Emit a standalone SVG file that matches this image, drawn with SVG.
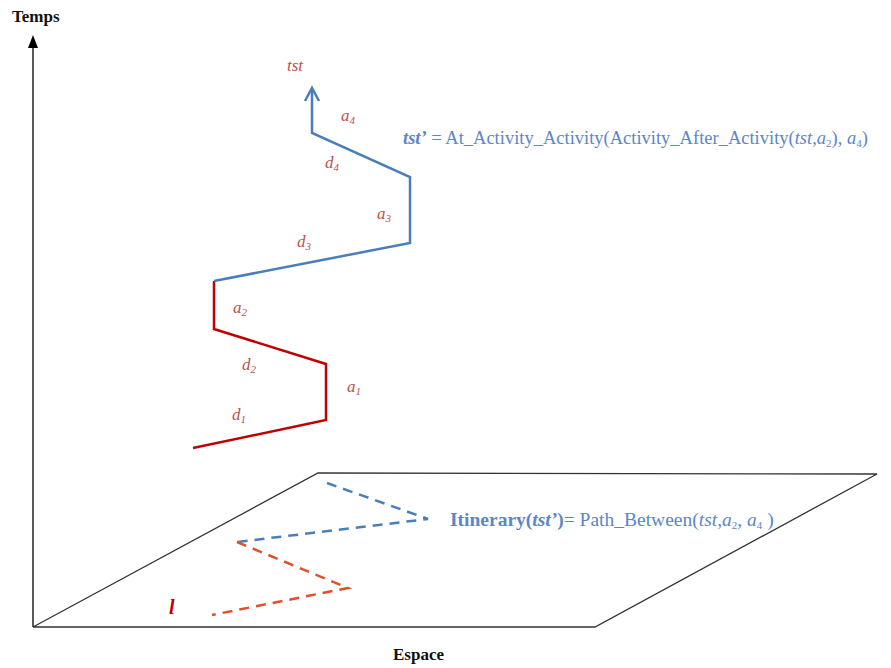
<svg xmlns="http://www.w3.org/2000/svg" width="891" height="668" viewBox="0 0 891 668">
<style>
.ax{stroke:#000;stroke-width:1.3;fill:none}
.pl{stroke:#333;stroke-width:1.3;fill:none}
.red{stroke:#c00000;stroke-width:2.5;fill:none}
.blue{stroke:#4a7ebb;stroke-width:2.5;fill:none}
.bd{stroke:#4a7ebb;stroke-width:2.5;fill:none;stroke-dasharray:10 7}
.rd{stroke:#e0502a;stroke-width:2.5;fill:none;stroke-dasharray:10 7}
.lbl{font-family:"Liberation Serif",serif;font-style:italic;font-size:17px;fill:#c0504d}
.sub{font-size:11px}
.bt{font-family:"Liberation Serif",serif;font-size:19px;fill:#5b86c8}
.ttl{font-family:"Liberation Serif",serif;font-weight:bold;font-size:17px;fill:#111}
</style>
<g id="axes">
<line class="ax" x1="33" y1="627" x2="33" y2="40"/>
<path d="M28,48 L33,35 L38,48 Z" fill="#000"/>
<text class="ttl" x="12" y="22">Temps</text>
<text class="ttl" x="393" y="660">Espace</text>
</g>
<g id="plane">
<polygon class="pl" points="33,627 318,473 877,474 595,627"/>
</g>
<g id="connectors">
<polyline class="red" points="193,448 326,420 326,364 214,329 214,281"/>
<polyline class="blue" points="214,281 410,243 410,177 312,133 312,89"/>
<polyline class="blue" points="305,101 312,88 319,101"/>
<polyline class="bd" points="327,483 428,519 237,542"/>
<polyline class="rd" points="237,542 348,588 212,615"/>
</g>
<g id="labels">
<text class="lbl" x="287" y="71">tst</text>
<text class="lbl" x="341" y="121">a<tspan class="sub" dy="3">4</tspan></text>
<text class="lbl" x="325" y="168">d<tspan class="sub" dy="3">4</tspan></text>
<text class="lbl" x="377" y="219">a<tspan class="sub" dy="3">3</tspan></text>
<text class="lbl" x="297" y="247">d<tspan class="sub" dy="3">3</tspan></text>
<text class="lbl" x="233" y="313">a<tspan class="sub" dy="3">2</tspan></text>
<text class="lbl" x="242" y="370">d<tspan class="sub" dy="3">2</tspan></text>
<text class="lbl" x="347" y="392">a<tspan class="sub" dy="3">1</tspan></text>
<text class="lbl" x="232" y="420">d<tspan class="sub" dy="3">1</tspan></text>
<text class="lbl" x="169" y="614" style="font-size:20px;font-weight:bold;fill:#c00000">l</text>
</g>
<g id="formula1">
<text class="bt" x="403" y="144" style="font-size:18.5px"><tspan font-weight="bold" font-style="italic">tst’</tspan> = At_Activity_Activity(Activity_After_Activity(<tspan font-style="italic">tst</tspan>,<tspan font-style="italic">a</tspan><tspan class="sub" dy="3">2</tspan><tspan dy="-3">), </tspan><tspan font-style="italic">a</tspan><tspan class="sub" dy="3">4</tspan><tspan dy="-3">)</tspan></text>
</g>
<g id="formula2">
<text class="bt" x="450" y="526" style="font-size:19.5px"><tspan font-weight="bold">Itinerary(<tspan font-style="italic">tst’</tspan>)</tspan>= Path_Between(<tspan font-style="italic">tst</tspan>,<tspan font-style="italic">a</tspan><tspan class="sub" dy="3">2</tspan><tspan dy="-3">, </tspan><tspan font-style="italic">a</tspan><tspan class="sub" dy="3">4</tspan><tspan dy="-3"> )</tspan></text>
</g>
</svg>
